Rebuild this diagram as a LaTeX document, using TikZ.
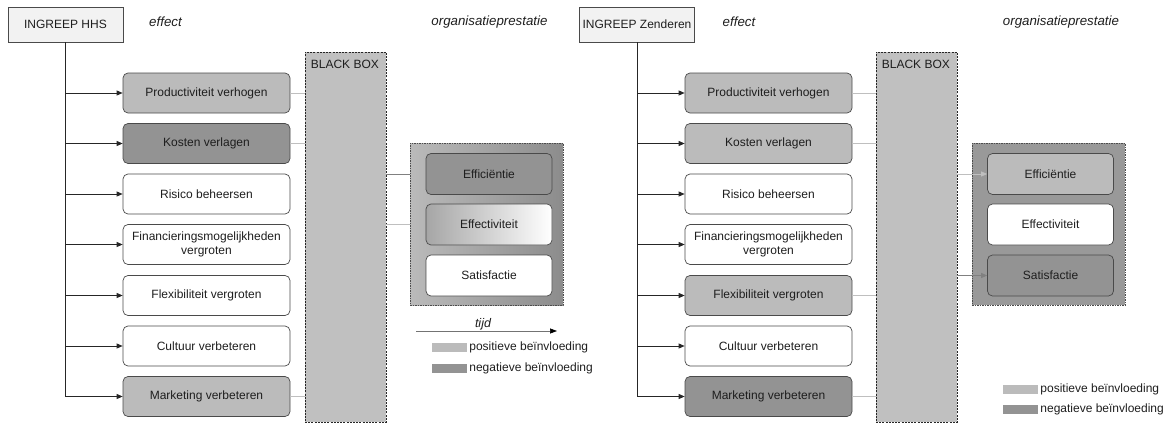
\documentclass[tikz,border=0pt]{standalone}
\usepackage{fontspec}
\setmainfont{Liberation Sans}
\usetikzlibrary{arrows.meta}
\definecolor{boxline}{HTML}{4A4A4A}
\definecolor{pos}{HTML}{BBBBBB}
\definecolor{neg}{HTML}{939393}
\definecolor{bbfill}{HTML}{C0C0C0}
\definecolor{headfill}{HTML}{F2F2F2}
\definecolor{txt}{HTML}{1E1E1E}
\begin{document}
\begin{tikzpicture}[x=1pt,y=-1pt,
  every node/.style={inner sep=0pt, text=txt, font=\fontsize{12}{14}\selectfont},
  headbox/.style={draw=boxline, fill=headfill, line width=0.7pt, minimum width=115, minimum height=35},
  title/.style={font=\fontsize{13.3}{15}\selectfont\itshape},
  effbox/.style={draw=boxline, fill=white, line width=0.7pt, rounded corners=5pt, minimum width=167, minimum height=40, align=center},
  resbox/.style={draw=boxline, fill=white, line width=0.7pt, rounded corners=5pt, minimum width=126, minimum height=41, align=center},
  blackbox/.style={draw=black!85, fill=bbfill, line width=0.7pt, dash pattern=on 2pt off 1.2pt, minimum width=81, minimum height=370},
  resframe/.style={draw=black!70, line width=0.5pt, dash pattern=on 1.5pt off 1pt, minimum width=153, minimum height=162},
  feed/.style={draw=black!85, line width=0.7pt, -{Triangle[length=6pt,width=5pt]}},
  link/.style={draw=black!25, line width=0.7pt},
  swatch/.style={minimum width=35, minimum height=9}
]
\useasboundingbox (0,0) rectangle (1165,423);

% ---------------- left: INGREEP HHS ----------------
\node[headbox] (L-ing) at (65.5,24.5) {INGREEP HHS};
\node[title] (L-eff) at (165.5,22) {effect};
\node[title] (L-opt) at (489.5,22) {organisatieprestatie};

\node[effbox, fill=pos] (L-p1) at (206.5,93)    {Productiviteit verhogen};
\node[effbox, fill=neg] (L-p2) at (206.5,143.5) {Kosten verlagen};
\node[effbox]           (L-p3) at (206.5,194)   {Risico beheersen};
\node[effbox]           (L-p4) at (206.5,244.5) {Financieringsmogelijkheden\\vergroten};
\node[effbox]           (L-p5) at (206.5,295.5) {Flexibiliteit vergroten};
\node[effbox]           (L-p6) at (206.5,346)   {Cultuur verbeteren};
\node[effbox, fill=pos] (L-p7) at (206.5,396.5) {Marketing verbeteren};

\foreach \i in {1,...,7} \draw[feed] (L-ing.south) |- (L-p\i.west);

\node[blackbox] (L-bb) at (345.5,237) {};
\node[anchor=north west] (L-bbt) at ([shift={(6,8)}]L-bb.north west) {BLACK BOX};
\foreach \i in {1,2,7} \draw[link] (L-p\i.east) -- (L-p\i.east -| L-bb.west);

\node[resframe, shading=axis, left color=black!27, right color=black!45] (L-org) at (486.5,224) {};
\node[resbox, fill=neg] (L-o1) at (489,174)   {Efficiëntie};
\node[resbox, shading=axis, left color=black!35, right color=white] (L-o2) at (489,224.5) {Effectiviteit};
\node[resbox]           (L-o3) at (489,275.5) {Satisfactie};
\draw[link, draw=black!50] (L-bb.east |- L-o1) -- (L-org.west |- L-o1);
\draw[link] (L-bb.east |- L-o2) -- (L-org.west |- L-o2);

\coordinate (L-t0) at (416,331);
\coordinate (L-t1) at (557,331);
\draw[draw=black!55, line width=0.7pt, -{Triangle[length=7pt,width=5pt,color=black]}] (L-t0) -- (L-t1);
\node[title, font=\fontsize{12.5}{14}\selectfont\itshape] (L-tijd) at (483,324.5) {tijd};

\node[swatch, fill=pos] (L-k1) at (449.5,347.5) {};
\node[swatch, fill=neg] (L-k2) at (449.5,368.5) {};
\node[anchor=west] (L-k1t) at ([xshift=2]L-k1.east) {positieve beïnvloeding};
\node[anchor=west] (L-k2t) at ([xshift=2]L-k2.east) {negatieve beïnvloeding};

% ---------------- right: INGREEP Zenderen ----------------
\node[headbox] (R-ing) at (637,24.5) {INGREEP Zenderen};
\node[title] (R-eff) at (739,22) {effect};
\node[title] (R-opt) at (1061,22) {organisatieprestatie};

\node[effbox, fill=pos] (R-p1) at (768.5,93)    {Productiviteit verhogen};
\node[effbox, fill=pos] (R-p2) at (768.5,143.5) {Kosten verlagen};
\node[effbox]           (R-p3) at (768.5,194)   {Risico beheersen};
\node[effbox]           (R-p4) at (768.5,244.5) {Financieringsmogelijkheden\\vergroten};
\node[effbox, fill=pos] (R-p5) at (768.5,295.5) {Flexibiliteit vergroten};
\node[effbox]           (R-p6) at (768.5,346)   {Cultuur verbeteren};
\node[effbox, fill=neg] (R-p7) at (768.5,396.5) {Marketing verbeteren};

\foreach \i in {1,...,7} \draw[feed] (R-ing.south) |- (R-p\i.west);

\node[blackbox] (R-bb) at (916.5,237) {};
\node[anchor=north west] (R-bbt) at ([shift={(6,8)}]R-bb.north west) {BLACK BOX};
\foreach \i in {1,2,5,7} \draw[link] (R-p\i.east) -- (R-p\i.east -| R-bb.west);

\node[resframe, fill=black!40] (R-org) at (1048.5,224) {};
\node[resbox, fill=pos] (R-o1) at (1050.5,174)   {Efficiëntie};
\node[resbox]           (R-o2) at (1050.5,224.5) {Effectiviteit};
\node[resbox, fill=neg] (R-o3) at (1050.5,275.5) {Satisfactie};
\draw[link, -{Triangle[length=6pt,width=5pt]}] (R-bb.east |- R-o1) -- (R-o1.west);
\draw[link, draw=black!50, -{Triangle[length=6pt,width=5pt]}] (R-bb.east |- R-o3) -- (R-o3.west);

\node[swatch, fill=pos] (R-k1) at (1020.5,389) {};
\node[swatch, fill=neg] (R-k2) at (1020.5,409.5) {};
\node[anchor=west] (R-k1t) at ([xshift=2]R-k1.east) {positieve beïnvloeding};
\node[anchor=west] (R-k2t) at ([xshift=2]R-k2.east) {negatieve beïnvloeding};
\end{tikzpicture}
\end{document}
